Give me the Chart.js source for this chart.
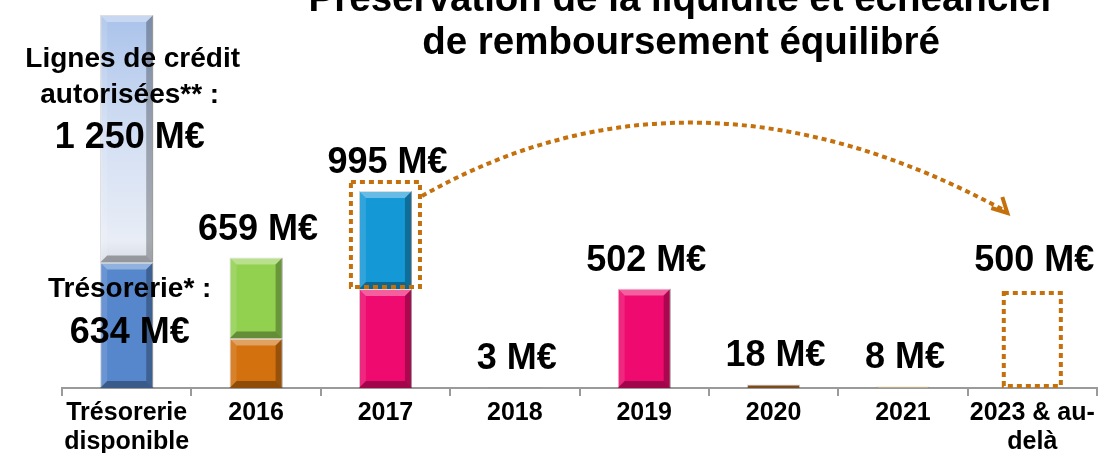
<!DOCTYPE html>
<html>
<head>
<meta charset="utf-8">
<script src="https://cdn.jsdelivr.net/npm/chart.js@4.4.0/dist/chart.umd.min.js"></script>
<style>
  html, body { margin: 0; padding: 0; background: #fff; }
  #wrap { width: 1100px; height: 453px; }
</style>
</head>
<body>
<div id="wrap"><canvas id="barChart" width="1100" height="453"></canvas></div>
<script>
// categories and values (M€)
var categories = [["Trésorerie", "disponible"], "2016", "2017", "2018", "2019", "2020", "2021", ["2023 & au-", "delà"]];
var lowerValues = [634, 250, 500, 3, 502, 18, 8, 0];
var upperValues = [1250, 409, 495, 0, 0, 0, 0, 0];
var refinancing = [0, 0, 0, 0, 0, 0, 0, 500];
var totalLabels = ["", "659 M€", "995 M€", "3 M€", "502 M€", "18 M€", "8 M€", "500 M€"];

var lowerColors = ['#5687cc', '#d2710d', '#ee0a6e', '#8a8a8a', '#ee0a6e', '#7b4a1e', '#cdb27a', 'rgba(0,0,0,0)'];
var upperColors = [null, '#92d050', '#1598d6', '#fff', '#fff', '#fff', '#fff', '#fff'];

var FONT = '"Liberation Sans", Arial, sans-serif';
var DASH_COLOR = '#c4700c';

function upperColor(ctx) {
    var i = ctx.dataIndex;
    if (i === 0) {
        var area = ctx.chart.chartArea;
        if (!area) return '#d5e1f4';
        var g = ctx.chart.ctx.createLinearGradient(0, area.top, 0, area.bottom);
        g.addColorStop(0.03, '#a9c2ea');
        g.addColorStop(0.35, '#d3dff3');
        g.addColorStop(0.62, '#e8edf6');
        g.addColorStop(0.68, '#d9dde4');
        return g;
    }
    return upperColors[i];
}

function elProps(el) {
    return el.getProps(['x', 'y', 'base', 'width'], true);
}

// bevel look on every bar
var bevelPlugin = {
    id: 'bevel',
    afterDatasetsDraw: function (chart) {
        var c = chart.ctx;
        [0, 1].forEach(function (d) {
            chart.getDatasetMeta(d).data.forEach(function (el) {
                var p = elProps(el);
                var h = p.base - p.y;
                if (h < 6) return;
                var l = p.x - p.width / 2, r = p.x + p.width / 2, t = p.y, b = p.base;
                var s = Math.min(7, h / 3);
                function quad(pts, col) {
                    c.beginPath();
                    c.moveTo(pts[0][0], pts[0][1]);
                    for (var k = 1; k < pts.length; k++) c.lineTo(pts[k][0], pts[k][1]);
                    c.closePath();
                    c.fillStyle = col;
                    c.fill();
                }
                c.save();
                quad([[l, t], [r, t], [r - s, t + s], [l + s, t + s]], 'rgba(255,255,255,0.35)');
                quad([[l, t], [l + s, t + s], [l + s, b - s], [l, b]], 'rgba(255,255,255,0.12)');
                quad([[r, t], [r, b], [r - s, b - s], [r - s, t + s]], 'rgba(0,0,0,0.28)');
                quad([[l, b], [r, b], [r - s, b - s], [l + s, b - s]], 'rgba(0,0,0,0.32)');
                c.restore();
            });
        });
    }
};

// dashed boxes, arrow, labels, title
var annotatePlugin = {
    id: 'annotate',
    afterDraw: function (chart) {
        var c = chart.ctx;
        var n = categories.length;
        var metas = [0, 1, 2].map(function (d) { return chart.getDatasetMeta(d); });

        c.save();
        // value labels above each stack
        c.fillStyle = '#000';
        c.font = 'bold 36px ' + FONT;
        c.textAlign = 'center';
        c.textBaseline = 'alphabetic';
        for (var i = 0; i < n; i++) {
            if (!totalLabels[i]) continue;
            var top = Infinity, x = 0;
            metas.forEach(function (m, d) {
                var v = chart.data.datasets[d].data[i];
                if (!v) return;
                var p = elProps(m.data[i]);
                x = p.x;
                top = Math.min(top, p.y);
            });
            c.fillText(totalLabels[i], x + 2, top - 18);
        }

        // dashed box around the 2017 refinanced tranche
        c.strokeStyle = DASH_COLOR;
        c.lineWidth = 4;
        c.setLineDash([5, 4]);
        var up = elProps(metas[1].data[2]);
        var bx1 = up.x - up.width / 2 - 8, bx2 = up.x + up.width / 2 + 8;
        var by1 = up.y - 9, by2 = up.base - 2;
        c.strokeRect(bx1, by1, bx2 - bx1, by2 - by1);

        // dashed box for 2023 & au-delà
        var rf = elProps(metas[2].data[7]);
        c.strokeRect(rf.x - rf.width / 2 - 2, rf.y + 4, rf.width + 4, rf.base - rf.y - 6);

        // curved arrow
        var sx = bx2 + 2, sy = by1 + 14;
        var ex = rf.x - 27, ey = rf.y - 78;
        c.beginPath();
        c.moveTo(sx, sy);
        c.quadraticCurveTo((sx + ex) / 2 - 20, 42, ex, ey);
        c.stroke();
        c.setLineDash([]);
        c.beginPath();
        c.moveTo(ex - 14, ey - 3);
        c.lineTo(ex + 2, ey + 2);
        c.lineTo(ex - 3, ey - 14);
        c.lineWidth = 4;
        c.stroke();

        // left annotations on the Trésorerie bar
        var tx = elProps(metas[0].data[0]).x + 3;
        c.fillStyle = '#000';
        c.textBaseline = 'middle';
        c.font = 'bold 28px ' + FONT;
        c.fillText('Lignes de crédit', tx + 3, 59);
        c.fillText('autorisées** :', tx, 95);
        c.fillText('Trésorerie* :', tx, 289);
        c.font = 'bold 36px ' + FONT;
        c.fillText('1 250 M€', tx, 138);
        c.fillText('634 M€', tx, 333);

        // title (partly cut at top)
        c.font = 'bold 38.5px ' + FONT;
        c.textBaseline = 'alphabetic';
        c.fillText('Préservation de la liquidité et échéancier', 682, 11);
        c.fillText('de remboursement équilibré', 681, 54);
        c.restore();
    }
};

var barData = {
    labels: categories,
    datasets: [
        {
            label: 'Tranche 1',
            data: lowerValues,
            backgroundColor: lowerColors,
            borderColor: 'rgba(0,0,0,0.2)',
            borderWidth: 1
        },
        {
            label: 'Tranche 2',
            data: upperValues,
            backgroundColor: upperColor,
            borderColor: 'rgba(0,0,0,0.2)',
            borderWidth: 1
        },
        {
            label: 'Refinancement',
            data: refinancing,
            backgroundColor: 'rgba(0,0,0,0)',
            borderWidth: 0
        }
    ]
};

var barOptions = {
    responsive: false,
    animation: false,
    layout: { padding: { left: 62, right: 3, top: 0, bottom: 0 } },
    datasets: { bar: { categoryPercentage: 1, barPercentage: 0.41 } },
    plugins: { legend: { display: false }, tooltip: { enabled: false } },
    scales: {
        x: {
            stacked: true,
            afterFit: function (scale) { scale.height = 65; },
            border: { color: '#9a9a9a', width: 2 },
            grid: { drawOnChartArea: false, tickLength: 8, color: '#9a9a9a', lineWidth: 2 },
            ticks: {
                color: '#000',
                maxRotation: 0,
                autoSkip: false,
                padding: 3,
                font: { family: FONT, size: 25, weight: 'bold', lineHeight: 1.16 }
            }
        },
        y: {
            stacked: true,
            display: false,
            min: 0,
            max: 1960
        }
    }
};

var ctx2 = document.getElementById("barChart").getContext("2d");
new Chart(ctx2, { type: 'bar', data: barData, options: barOptions, plugins: [bevelPlugin, annotatePlugin] });
</script>
</body>
</html>
